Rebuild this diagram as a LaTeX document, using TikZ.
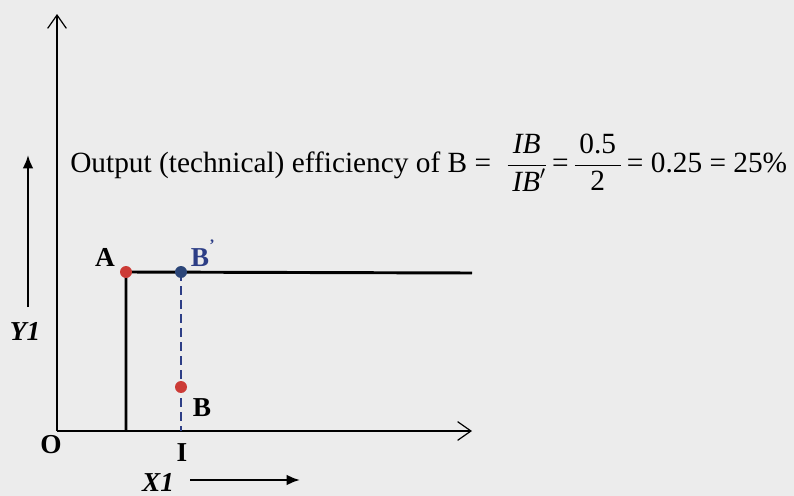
\documentclass[tikz,border=0pt]{standalone}
\usepackage{amsmath}
\usepackage{fontspec}
\setmainfont{Liberation Serif}
\usetikzlibrary{arrows.meta,positioning}
\definecolor{bggray}{HTML}{ECECEC}
\definecolor{dotred}{HTML}{CC3B36}
\definecolor{dotblue}{HTML}{2B4578}
\definecolor{lblblue}{HTML}{2D3E86}

\begin{document}
\begin{tikzpicture}[
  x=0.75pt, y=-0.75pt,
  every node/.style={font=\fontsize{20.5}{24}\selectfont},
  lbl/.style={font=\fontsize{20.5}{24}\selectfont\bfseries},
  axis/.style={line width=0.9pt,-{Straight Barb[length=10pt,width=14pt,line width=0.9pt]}},
  front/.style={line width=2.2pt},
  proj/.style={lblblue,line width=1.7pt,dash pattern=on 6.5pt off 4pt},
  pt/.style={circle,inner sep=0pt,minimum size=9pt},
  hint/.style={line width=1.7pt,-{Latex[length=10pt,width=8pt]}},
]
\fill[bggray] (0,0) rectangle (794,496);
\useasboundingbox (0,0) rectangle (794,496);

% axes
\coordinate (O) at (57,431);
\coordinate (ytop) at (57,14);
\coordinate (xend) at (472,431);
\draw[axis] (O) -- (ytop);
\draw[axis] (O) -- (xend);

% frontier
\coordinate (kink) at (126,431);
\coordinate (frontend) at (472,273);
\coordinate (I) at (181,431);
\node[pt] (A) at (126,272) {};
\node[pt] (Bp) at (181,272) {};
\node[pt] (B) at (181,387) {};
\draw[front] (kink) -- (A.center) -- (frontend);
\draw[proj] (Bp.center) -- (I);
\node[pt,fill=dotred] at (A) {};
\node[pt,fill=dotblue] at (Bp) {};
\node[pt,fill=dotred] at (B) {};

% labels
\node[lbl] (labA) at (105,257) {A};
\node[lbl,text=lblblue] (labBp) at (200,258) {B};
\node[lbl,text=lblblue,font=\fontsize{12}{14}\selectfont\bfseries] (prime) at (212,245) {'};
\node[lbl] (labB) at (202,408) {B};
\node[lbl] (labO) at (51,445) {O};
\node[lbl] (labI) at (182,453) {I};
\node[lbl,font=\fontsize{20.5}{24}\selectfont\bfseries\itshape] (labY) at (25,331) {Y1};
\node[lbl,font=\fontsize{20.5}{24}\selectfont\bfseries\itshape,inner sep=0pt] (labX) at (158,482) {X1};

% direction hints
\coordinate (y1s) at (28,307);
\coordinate (y1e) at (28,155);
\coordinate (x1s) at (190,480);
\coordinate (x1e) at (300,480);
\draw[hint] (y1s) -- (y1e);
\draw[hint] (x1s) -- (x1e);

% efficiency
\node[anchor=base west,inner sep=0pt,font=\fontsize{22}{26}\selectfont] (eff) at (70,172)
  {Output (technical) efficiency of B = $\;\dfrac{\,\textit{IB}\,}{\,\textit{IB}'}\,\text{=}\,\dfrac{\,\text{0.5}\,}{\text{2}}\,\text{= 0.25 = 25\%}$};
\end{tikzpicture}
\end{document}
